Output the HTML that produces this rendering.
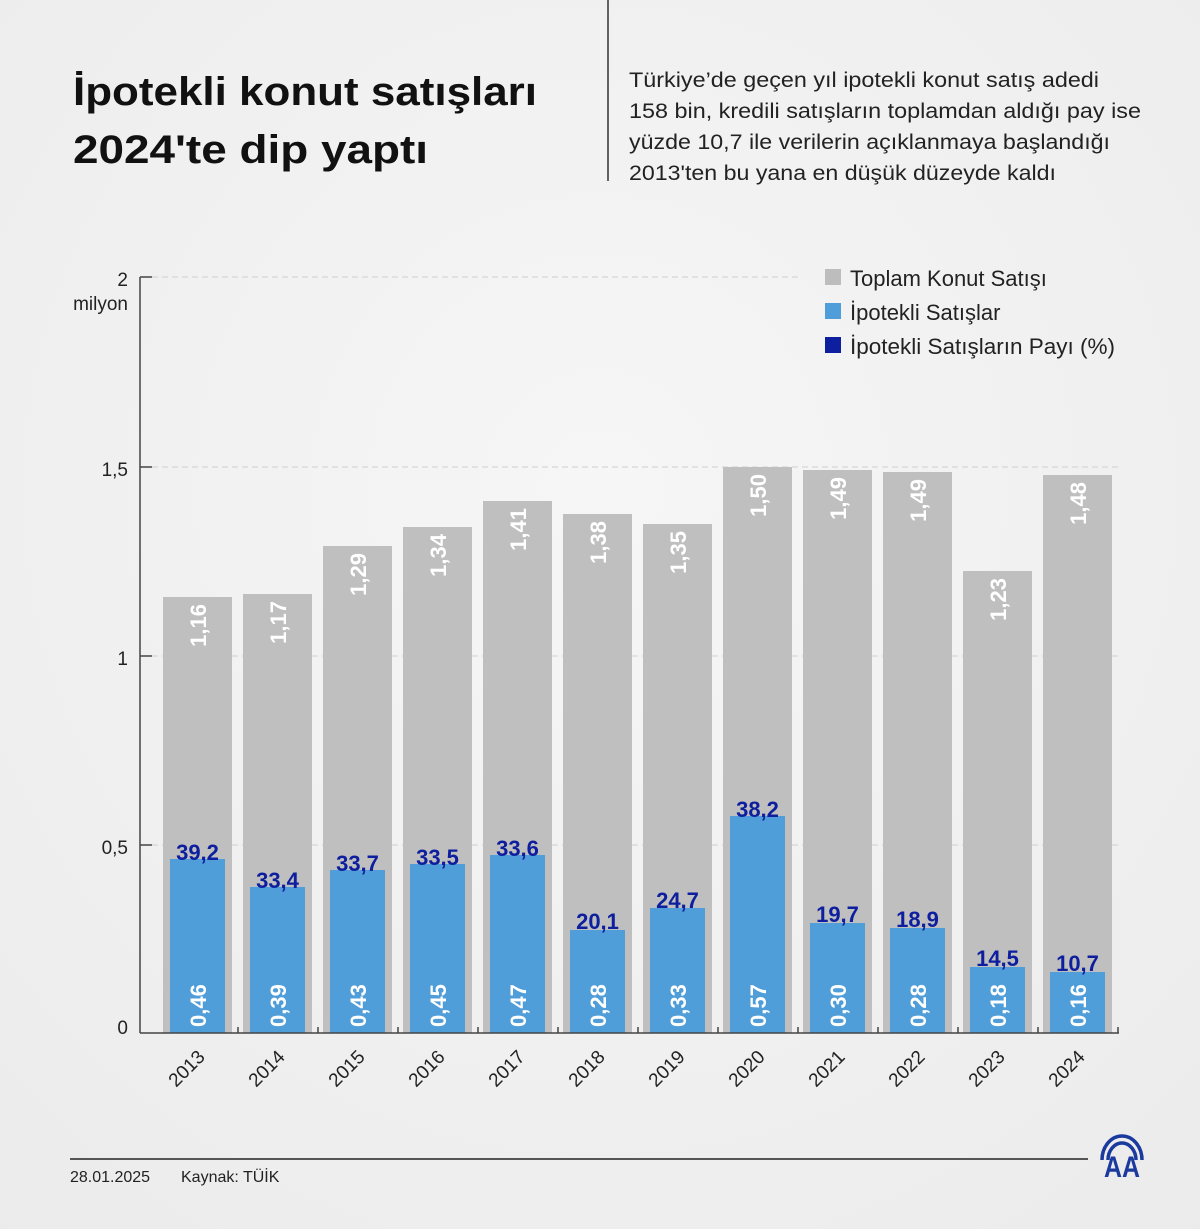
<!DOCTYPE html>
<html><head><meta charset="utf-8"><style>
html,body{margin:0;padding:0;background:#efefef;}
svg{display:block;}
text{font-family:"Liberation Sans",sans-serif;}
</style></head><body>
<svg width="1200" height="1229" viewBox="0 0 1200 1229" xmlns="http://www.w3.org/2000/svg">
<defs><radialGradient id="bg" cx="0.5" cy="0.4" r="0.8"><stop offset="0" stop-color="#f6f6f6"/><stop offset="1" stop-color="#ebebeb"/></radialGradient></defs>
<rect width="1200" height="1229" fill="url(#bg)"/>
<text x="73" y="105" font-size="40" font-weight="bold" fill="#111" textLength="464" lengthAdjust="spacingAndGlyphs">İpotekli konut satışları</text>
<text x="73" y="163" font-size="40" font-weight="bold" fill="#111" textLength="355" lengthAdjust="spacingAndGlyphs">2024'te dip yaptı</text>
<line x1="608" y1="0" x2="608" y2="181" stroke="#333" stroke-width="1.5"/>
<g font-size="21" fill="#222">
<text x="629" y="87" textLength="470" lengthAdjust="spacingAndGlyphs">Türkiye’de geçen yıl ipotekli konut satış adedi</text>
<text x="629" y="118" textLength="512" lengthAdjust="spacingAndGlyphs">158 bin, kredili satışların toplamdan aldığı pay ise</text>
<text x="629" y="149" textLength="481" lengthAdjust="spacingAndGlyphs">yüzde 10,7 ile verilerin açıklanmaya başlandığı</text>
<text x="629" y="180" textLength="427" lengthAdjust="spacingAndGlyphs">2013'ten bu yana en düşük düzeyde kaldı</text>
</g>
<g stroke="#cfcfcf" stroke-width="1" stroke-dasharray="6,4">
<line x1="152" y1="277" x2="800" y2="277"/>
<line x1="152" y1="467" x2="1118" y2="467"/>
<line x1="152" y1="656" x2="1118" y2="656"/>
<line x1="152" y1="845" x2="1118" y2="845"/>
</g>
<g stroke="#444" stroke-width="1.5">
<line x1="140" y1="277" x2="140" y2="1033"/>
<line x1="140" y1="277" x2="152" y2="277"/>
<line x1="140" y1="467" x2="152" y2="467"/>
<line x1="140" y1="656" x2="152" y2="656"/>
<line x1="140" y1="845" x2="152" y2="845"/>
</g>
<g font-size="19" fill="#222" text-anchor="end">
<text x="128" y="286">2</text>
<text x="128" y="310">milyon</text>
<text x="128" y="476">1,5</text>
<text x="128" y="665">1</text>
<text x="128" y="854">0,5</text>
<text x="128" y="1034">0</text>
</g>
<rect x="825" y="269" width="16" height="16" fill="#bdbdbd"/>
<rect x="825" y="303" width="16" height="16" fill="#4f9dd9"/>
<rect x="825" y="337" width="16" height="16" fill="#0d1e9e"/>
<g font-size="22" fill="#222">
<text x="850" y="286">Toplam Konut Satışı</text>
<text x="850" y="320">İpotekli Satışlar</text>
<text x="850" y="354" textLength="265" lengthAdjust="spacingAndGlyphs">İpotekli Satışların Payı (%)</text>
</g>
<g fill="#bfbfbf">
<rect x="163" y="597" width="69" height="436"/>
<rect x="243" y="594" width="69" height="439"/>
<rect x="323" y="546" width="69" height="487"/>
<rect x="403" y="527" width="69" height="506"/>
<rect x="483" y="501" width="69" height="532"/>
<rect x="563" y="514" width="69" height="519"/>
<rect x="643" y="524" width="69" height="509"/>
<rect x="723" y="467" width="69" height="566"/>
<rect x="803" y="470" width="69" height="563"/>
<rect x="883" y="472" width="69" height="561"/>
<rect x="963" y="571" width="69" height="462"/>
<rect x="1043" y="475" width="69" height="558"/>
</g>
<g fill="#4f9dd9">
<rect x="170" y="859" width="55" height="174"/>
<rect x="250" y="887" width="55" height="146"/>
<rect x="330" y="870" width="55" height="163"/>
<rect x="410" y="864" width="55" height="169"/>
<rect x="490" y="855" width="55" height="178"/>
<rect x="570" y="930" width="55" height="103"/>
<rect x="650" y="908" width="55" height="125"/>
<rect x="730" y="816" width="55" height="217"/>
<rect x="810" y="923" width="55" height="110"/>
<rect x="890" y="928" width="55" height="105"/>
<rect x="970" y="967" width="55" height="66"/>
<rect x="1050" y="972" width="55" height="61"/>
</g>
<g font-size="22" font-weight="bold" fill="#fff" text-anchor="end">
<text transform="translate(206,604) rotate(-90)">1,16</text>
<text transform="translate(286,601) rotate(-90)">1,17</text>
<text transform="translate(366,553) rotate(-90)">1,29</text>
<text transform="translate(446,534) rotate(-90)">1,34</text>
<text transform="translate(526,508) rotate(-90)">1,41</text>
<text transform="translate(606,521) rotate(-90)">1,38</text>
<text transform="translate(686,531) rotate(-90)">1,35</text>
<text transform="translate(766,474) rotate(-90)">1,50</text>
<text transform="translate(846,477) rotate(-90)">1,49</text>
<text transform="translate(926,479) rotate(-90)">1,49</text>
<text transform="translate(1006,578) rotate(-90)">1,23</text>
<text transform="translate(1086,482) rotate(-90)">1,48</text>
</g>
<g font-size="22" font-weight="bold" fill="#fff" text-anchor="start">
<text transform="translate(206,1027) rotate(-90)">0,46</text>
<text transform="translate(286,1027) rotate(-90)">0,39</text>
<text transform="translate(366,1027) rotate(-90)">0,43</text>
<text transform="translate(446,1027) rotate(-90)">0,45</text>
<text transform="translate(526,1027) rotate(-90)">0,47</text>
<text transform="translate(606,1027) rotate(-90)">0,28</text>
<text transform="translate(686,1027) rotate(-90)">0,33</text>
<text transform="translate(766,1027) rotate(-90)">0,57</text>
<text transform="translate(846,1027) rotate(-90)">0,30</text>
<text transform="translate(926,1027) rotate(-90)">0,28</text>
<text transform="translate(1006,1027) rotate(-90)">0,18</text>
<text transform="translate(1086,1027) rotate(-90)">0,16</text>
</g>
<g font-size="22" font-weight="bold" fill="#0d1e9e" text-anchor="middle">
<text x="197.5" y="860">39,2</text>
<text x="277.5" y="888">33,4</text>
<text x="357.5" y="871">33,7</text>
<text x="437.5" y="865">33,5</text>
<text x="517.5" y="856">33,6</text>
<text x="597.5" y="929">20,1</text>
<text x="677.5" y="908">24,7</text>
<text x="757.5" y="817">38,2</text>
<text x="837.5" y="922">19,7</text>
<text x="917.5" y="927">18,9</text>
<text x="997.5" y="966">14,5</text>
<text x="1077.5" y="971">10,7</text>
</g>
<g stroke="#444" stroke-width="1.5">
<line x1="140" y1="1033" x2="1119" y2="1033"/>
<line x1="238" y1="1033" x2="238" y2="1027"/>
<line x1="318" y1="1033" x2="318" y2="1027"/>
<line x1="398" y1="1033" x2="398" y2="1027"/>
<line x1="478" y1="1033" x2="478" y2="1027"/>
<line x1="558" y1="1033" x2="558" y2="1027"/>
<line x1="638" y1="1033" x2="638" y2="1027"/>
<line x1="718" y1="1033" x2="718" y2="1027"/>
<line x1="798" y1="1033" x2="798" y2="1027"/>
<line x1="878" y1="1033" x2="878" y2="1027"/>
<line x1="958" y1="1033" x2="958" y2="1027"/>
<line x1="1038" y1="1033" x2="1038" y2="1027"/>
<line x1="1118" y1="1033" x2="1118" y2="1027"/>
</g>
<g font-size="19" fill="#222" text-anchor="end">
<text transform="translate(206,1058) rotate(-45)">2013</text>
<text transform="translate(286,1058) rotate(-45)">2014</text>
<text transform="translate(366,1058) rotate(-45)">2015</text>
<text transform="translate(446,1058) rotate(-45)">2016</text>
<text transform="translate(526,1058) rotate(-45)">2017</text>
<text transform="translate(606,1058) rotate(-45)">2018</text>
<text transform="translate(686,1058) rotate(-45)">2019</text>
<text transform="translate(766,1058) rotate(-45)">2020</text>
<text transform="translate(846,1058) rotate(-45)">2021</text>
<text transform="translate(926,1058) rotate(-45)">2022</text>
<text transform="translate(1006,1058) rotate(-45)">2023</text>
<text transform="translate(1086,1058) rotate(-45)">2024</text>
</g>
<line x1="70" y1="1159" x2="1088" y2="1159" stroke="#555" stroke-width="2"/>
<text x="70" y="1182" font-size="16" fill="#222">28.01.2025</text>
<text x="181" y="1182" font-size="16" fill="#222">Kaynak: TÜİK</text>
<g fill="none" stroke="#1a3a9e" stroke-width="3.5">
<path d="M1102,1160 A20,24 0 0 1 1142,1160"/>
<path d="M1108,1160 A14,17 0 0 1 1136,1160"/>
</g>
<text x="1122" y="1177" font-size="30" font-weight="bold" fill="#1a3a9e" text-anchor="middle" textLength="36" lengthAdjust="spacingAndGlyphs">AA</text>
</svg>
</body></html>
